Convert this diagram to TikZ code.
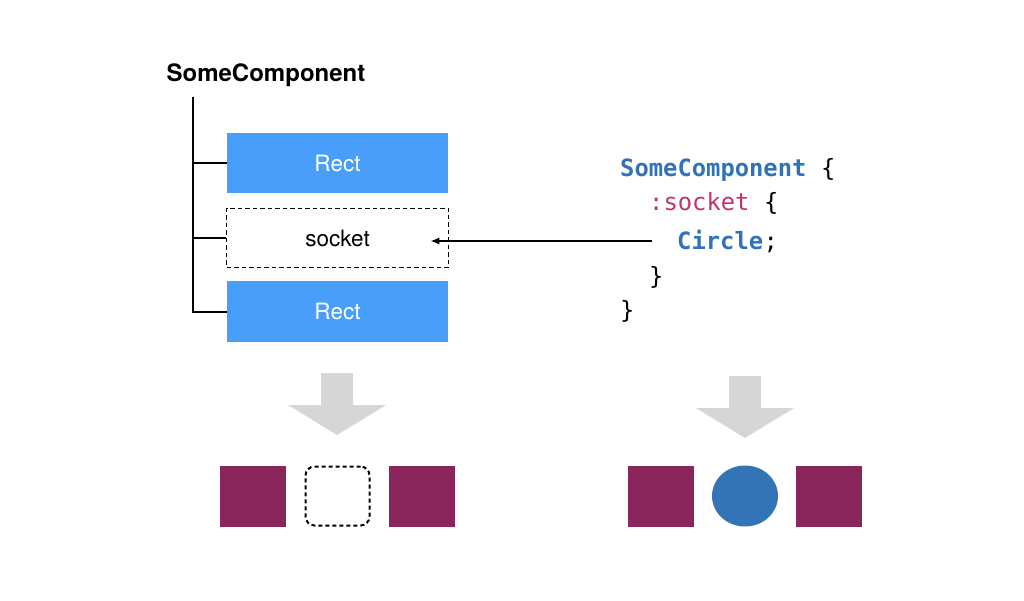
\documentclass[tikz,border=0pt]{standalone}
\usepackage{fontspec}
\setmainfont{TeX Gyre Heros}
\setmonofont{DejaVu Sans Mono}
\usetikzlibrary{arrows.meta,shapes.geometric}

\definecolor{rectblue}{RGB}{72,158,248}
\definecolor{tilepurple}{RGB}{138,38,91}
\definecolor{dotblue}{RGB}{50,116,182}
\definecolor{kwblue}{RGB}{50,115,184}
\definecolor{kwpink}{RGB}{192,52,112}
\definecolor{arrowgrey}{RGB}{214,214,214}

\tikzset{
  rectbox/.style={fill=rectblue, text=white, minimum width=221pt, minimum height=60pt,
    inner sep=0pt, font=\fontsize{22.5}{26}\selectfont},
  slotbox/.style={draw, line width=1.8pt, dash pattern=on 4.5pt off 3pt, minimum width=222pt,
    minimum height=59pt, inner sep=0pt, font=\fontsize{22.5}{26}\selectfont},
  tree/.style={line width=2pt},
  code/.style={anchor=base west, inner sep=0pt, font=\ttfamily\fontsize{23.8}{28}\selectfont},
  tile/.style={fill=tilepurple, minimum width=66pt, minimum height=61pt, inner sep=0pt},
  hole/.style={draw, line width=2pt, dash pattern=on 4pt off 3pt, rounded corners=9pt,
    minimum width=64pt, minimum height=59pt, inner sep=0pt},
}

\begin{document}
\begin{tikzpicture}[x=1pt, y=-1pt]
\useasboundingbox (0,0) rectangle (1024,601);

% tree on the left
\node[anchor=base, inner sep=0pt, font=\bfseries\fontsize{24}{28}\selectfont] (title) at (266,82) {SomeComponent};
\coordinate (root) at (193,97);
\node[rectbox] (r1) at (337.5,163) {Rect};
\node[slotbox] (sock) at (337.5,238) {socket};
\node[rectbox] (r2) at (337.5,311.5) {Rect};
\draw[tree] (root) |- (r2.west);
\draw[tree] (root |- r1.west) -- (r1.west);
\draw[tree] (root |- sock.west) -- (sock.west);

% code on the right
\node[code, text=kwblue, font=\bfseries\ttfamily\fontsize{23.8}{28}\selectfont] (l1) at (620,177) {SomeComponent};
\node[code] (b1) at (l1.base east) {~\{};
\node[code, text=kwpink] (l2) at (649,211) {:socket};
\node[code] (b2) at (l2.base east) {~\{};
\node[code, text=kwblue, font=\bfseries\ttfamily\fontsize{23.8}{28}\selectfont] (l3) at (677,250) {Circle};
\node[code] (semi) at (l3.base east) {;};
\node[code] (l4) at (649,284) {\}};
\node[code] (l5) at (620,318) {\}};
\coordinate (src) at (652,241);
\draw[line width=1.8pt, -{Latex[length=9pt, width=7.5pt]}] (src) -- ([xshift=-19pt]sock.east |- src);

% big grey arrows
\foreach \tx/\ty in {337/435, 745/438}
  \fill[arrowgrey] (\tx,\ty) -- ++(-49,-30) -- ++(33,0) -- ++(0,-32) -- ++(32,0)
    -- ++(0,32) -- ++(33,0) -- cycle;

% results
\node[tile] (t1) at (253,496.5) {};
\node[hole] (t2) at (337.5,496) {};
\node[tile] (t3) at (422,496.5) {};
\node[tile] (u1) at (661,496.5) {};
\node[ellipse, fill=dotblue, minimum width=66pt, minimum height=61pt, inner sep=0pt] (u2) at (745,496) {};
\node[tile] (u3) at (829,496.5) {};
\end{tikzpicture}
\end{document}
